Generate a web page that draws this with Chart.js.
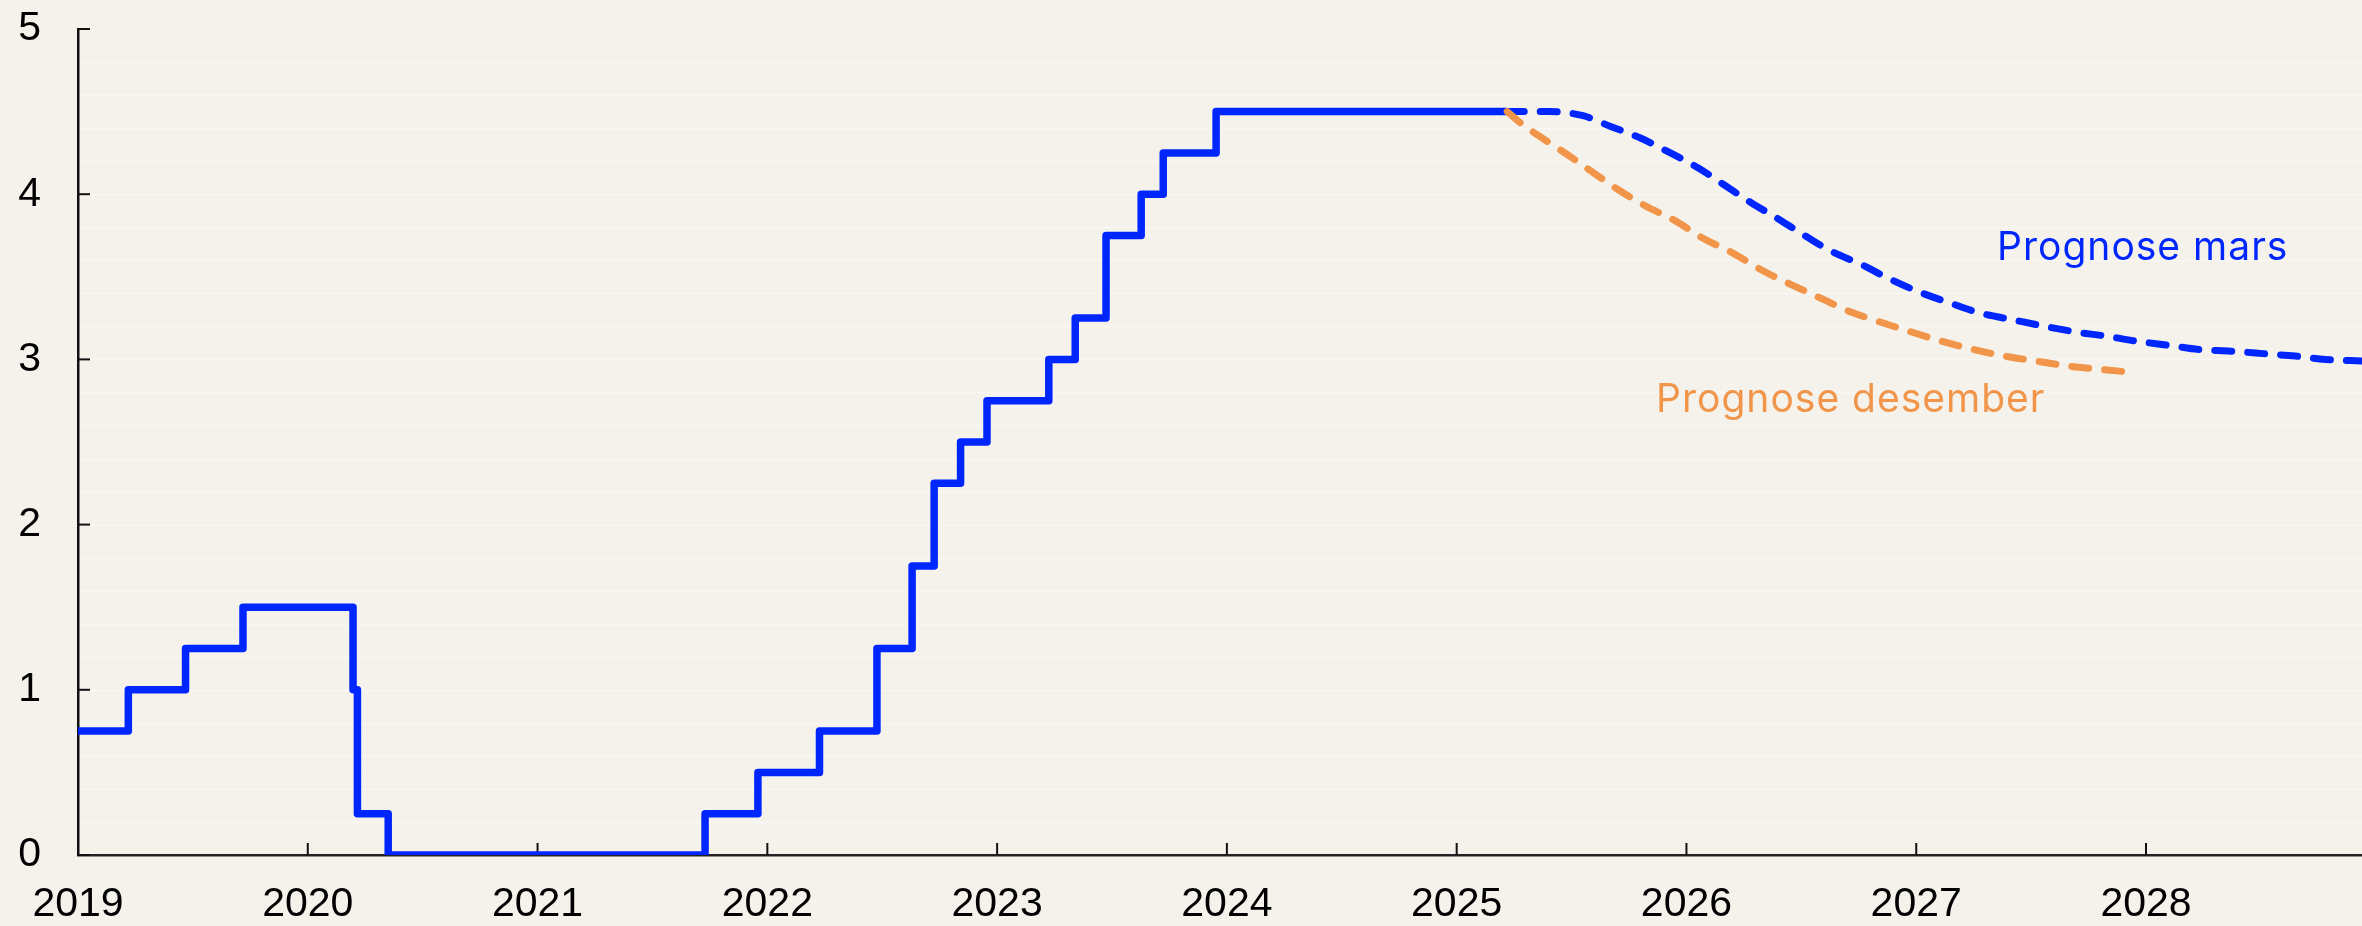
<!DOCTYPE html>
<html>
<head>
<meta charset="utf-8">
<script src="https://cdn.jsdelivr.net/npm/chart.js@4/dist/chart.umd.min.js"></script>
<style>
  html, body { margin: 0; padding: 0; background: #f5f2ec; }
  #wrap { width: 2362px; height: 926px; position: relative; }
</style>
</head>
<body>
<div id="wrap"><canvas id="c"></canvas></div>
<script>
// ---- Data (decimal years, percent) ----
// Policy rate, historical (date of change, new rate)
const histDates = [2019.0, 2019.219, 2019.468, 2019.718, 2020.197, 2020.216, 2020.350,
  2021.729, 2021.959, 2022.227, 2022.477, 2022.630, 2022.726, 2022.841, 2022.956,
  2023.225, 2023.340, 2023.474, 2023.627, 2023.723, 2023.953, 2025.22];
const histRates = [0.75, 1.00, 1.25, 1.50, 1.00, 0.25, 0.00,
  0.25, 0.50, 0.75, 1.25, 1.75, 2.25, 2.50, 2.75,
  3.00, 3.25, 3.75, 4.00, 4.25, 4.50, 4.50];

// Forecast March (Prognose mars)
const marsDates = [2025.22, 2025.40, 2025.55, 2025.67, 2025.80, 2025.93, 2026.05, 2026.16,
  2026.28, 2026.40, 2026.52, 2026.63, 2026.76, 2026.88, 2027.01, 2027.15, 2027.28,
  2027.42, 2027.56, 2027.70, 2027.83, 2027.96, 2028.10, 2028.23, 2028.37, 2028.51,
  2028.65, 2028.78, 2028.94];
const marsRates = [4.50, 4.50, 4.475, 4.41, 4.34, 4.25, 4.16, 4.06,
  3.95, 3.85, 3.745, 3.655, 3.575, 3.49, 3.41, 3.34, 3.28,
  3.24, 3.20, 3.165, 3.14, 3.11, 3.085, 3.06, 3.05, 3.035,
  3.02, 3.00, 2.99];

// Forecast December (Prognose desember)
const desDates = [2025.22, 2025.27, 2025.35, 2025.46, 2025.585, 2025.70, 2025.82, 2025.95,
  2026.07, 2026.20, 2026.335, 2026.46, 2026.585, 2026.71, 2026.835, 2026.97,
  2027.11, 2027.25, 2027.385, 2027.52, 2027.66, 2027.80, 2027.95];
const desRates = [4.50, 4.44, 4.36, 4.26, 4.14, 4.03, 3.93, 3.84,
  3.735, 3.645, 3.535, 3.45, 3.37, 3.29, 3.23, 3.17,
  3.11, 3.06, 3.02, 2.99, 2.96, 2.94, 2.92];

const xTickYears = [2019, 2020, 2021, 2022, 2023, 2024, 2025, 2026, 2027, 2028];
const yTickValues = [0, 1, 2, 3, 4, 5];
const seriesLabels = ['Prognose mars', 'Prognose desember'];

// ---- Build ----
const toPts = (xs, ys) => xs.map((x, i) => ({ x: x, y: ys[i] }));

const BLUE = '#0026ff';
const ORANGE = '#f0954a';

const annotations = [
  { text: seriesLabels[0], x: 2027.352, y: 3.604, color: BLUE },
  { text: seriesLabels[1], x: 2025.868, y: 2.683, color: ORANGE }
];

const decorPlugin = {
  id: 'decor',
  beforeDatasetsDraw(chart) {
    const { ctx, chartArea, scales } = chart;
    const xs = scales.x, ys = scales.y;
    ctx.save();
    // faint horizontal stripes every 0.2
    ctx.strokeStyle = '#f9f7f3';
    ctx.lineWidth = 1.5;
    for (let k = 1; k < 25; k++) {
      const py = Math.round(ys.getPixelForValue(k * 0.2)) + 0.5;
      ctx.beginPath();
      ctx.moveTo(chartArea.left + 2, py);
      ctx.lineTo(chartArea.right, py);
      ctx.stroke();
    }
    // inner tick marks
    ctx.strokeStyle = '#111';
    ctx.lineWidth = 2;
    yTickValues.forEach(v => {
      const py = ys.getPixelForValue(v);
      ctx.beginPath();
      ctx.moveTo(chartArea.left, py);
      ctx.lineTo(chartArea.left + 12, py);
      ctx.stroke();
    });
    xTickYears.forEach(v => {
      const px = xs.getPixelForValue(v);
      ctx.beginPath();
      ctx.moveTo(px, chartArea.bottom);
      ctx.lineTo(px, chartArea.bottom - 12);
      ctx.stroke();
    });
    ctx.restore();
  },
  afterDatasetsDraw(chart) {
    const { ctx, scales } = chart;
    ctx.save();
    ctx.font = '39px Inter';
    try { ctx.letterSpacing = '1px'; } catch (e) {}
    ctx.textAlign = 'left';
    ctx.textBaseline = 'alphabetic';
    annotations.forEach(a => {
      ctx.fillStyle = a.color;
      ctx.fillText(a.text, scales.x.getPixelForValue(a.x), scales.y.getPixelForValue(a.y));
    });
    ctx.restore();
  }
};

const tickFont = { family: 'Liberation Sans, Arial, sans-serif', size: 41 };

new Chart(document.getElementById('c'), {
  type: 'line',
  data: {
    datasets: [
      {
        label: seriesLabels[1],
        data: toPts(desDates, desRates),
        borderColor: ORANGE,
        borderWidth: 7,
        borderDash: [17, 16],
        borderCapStyle: 'round',
        cubicInterpolationMode: 'monotone',
        pointRadius: 0,
        fill: false
      },
      {
        label: 'Styringsrente',
        data: toPts(histDates, histRates),
        borderColor: BLUE,
        borderWidth: 7.5,
        stepped: true,
        borderJoinStyle: 'round',
        pointRadius: 0,
        fill: false
      },
      {
        label: seriesLabels[0],
        data: toPts(marsDates, marsRates),
        borderColor: BLUE,
        borderWidth: 7,
        borderDash: [17, 16],
        borderCapStyle: 'round',
        cubicInterpolationMode: 'monotone',
        pointRadius: 0,
        fill: false
      }
    ]
  },
  options: {
    responsive: true,
    maintainAspectRatio: false,
    animation: false,
    devicePixelRatio: 1,
    layout: { padding: { top: 29, right: 0, left: 0, bottom: 0 } },
    plugins: { legend: { display: false }, tooltip: { enabled: false } },
    scales: {
      x: {
        type: 'linear',
        min: 2019,
        max: 2028.94,
        afterFit(s) { s.height = 71; },
        afterBuildTicks(s) { s.ticks = xTickYears.map(v => ({ value: v })); },
        grid: { display: true, drawOnChartArea: false, drawTicks: true, tickLength: 25, tickColor: 'rgba(0,0,0,0)' },
        border: { display: true, color: '#222', width: 2.5 },
        ticks: {
          padding: 0,
          color: '#000',
          font: tickFont,
          maxRotation: 0,
          autoSkip: false,
          callback: v => String(v)
        }
      },
      y: {
        min: 0,
        max: 5,
        afterFit(s) { s.width = 78; },
        afterBuildTicks(s) { s.ticks = yTickValues.map(v => ({ value: v })); },
        grid: { display: true, drawOnChartArea: false, drawTicks: true, tickLength: 37, tickColor: 'rgba(0,0,0,0)' },
        border: { display: true, color: '#111', width: 2.5 },
        ticks: {
          padding: 0,
          color: '#000',
          font: tickFont,
          callback: v => String(v)
        }
      }
    }
  },
  plugins: [decorPlugin]
});
</script>
</body>
</html>
